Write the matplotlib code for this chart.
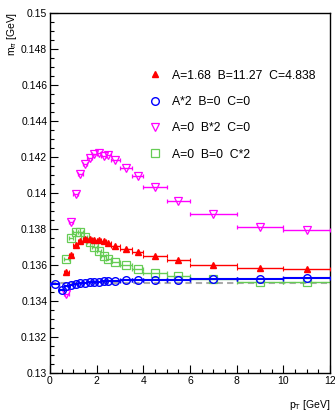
import matplotlib
matplotlib.use('Agg')
import matplotlib.pyplot as plt
from matplotlib.lines import Line2D
from matplotlib.ticker import MultipleLocator, FuncFormatter

plt.rcParams['font.family'] = ['Liberation Sans', 'DejaVu Sans']

# ---- data ----
pt_centers = [0.7, 0.9, 1.1, 1.3, 1.5, 1.7, 1.9, 2.1, 2.3, 2.5, 2.8, 3.25, 3.75, 4.5, 5.5, 7.0, 9.0, 11.0]
pt_halfw = [0.1, 0.1, 0.1, 0.1, 0.1, 0.1, 0.1, 0.1, 0.1, 0.1, 0.2, 0.25, 0.25, 0.5, 0.5, 1.0, 1.0, 1.0]

blue_extra_centers = [0.2, 0.5]
blue_extra_halfw = [0.2, 0.1]

m_fit = [0.13558, 0.13654, 0.13713, 0.13732, 0.13743, 0.13743, 0.13737, 0.13737, 0.13732, 0.13722,
         0.13704, 0.13689, 0.13674, 0.13652, 0.13630, 0.13602, 0.13582, 0.13580]
m_A2 = [0.13484, 0.13490, 0.13495, 0.13498, 0.13500, 0.13503, 0.13505, 0.13507, 0.13508, 0.13510,
        0.13512, 0.13514, 0.13516, 0.13518, 0.13519, 0.13520, 0.13521, 0.13527]
m_A2_extra = [0.13495, 0.13460]
m_B2 = [0.13440, 0.13840, 0.13995, 0.14103, 0.14160, 0.14192, 0.14215, 0.14222, 0.14205, 0.14212,
        0.14182, 0.14137, 0.14093, 0.14030, 0.13956, 0.13880, 0.13811, 0.13795]
m_C2 = [0.13632, 0.13747, 0.13780, 0.13780, 0.13756, 0.13728, 0.13700, 0.13675, 0.13652, 0.13634,
        0.13617, 0.13600, 0.13580, 0.13557, 0.13540, 0.13524, 0.13506, 0.13506]

m_pi0 = 0.135
labels = ["A=1.68  B=11.27  C=4.838", "A*2  B=0  C=0", "A=0  B*2  C=0", "A=0  B=0  C*2"]

# ---- figure ----
fig = plt.figure(figsize=(3.35, 4.13), dpi=100)
ax = fig.add_axes([50/335, 40/413, 280/335, 360.3/413])
ax.set_xlim(0, 12)
ax.set_ylim(0.13, 0.15)

ax.axhline(m_pi0, color='#aaaaaa', ls=(0, (3, 2)), lw=1.5, zorder=1)

red = '#ff0000'
blue = '#0000ff'
mag = '#ff00ff'
green = '#66cc55'

ax.errorbar(pt_centers, m_C2, xerr=pt_halfw, fmt='s', ms=5.5, mfc='none', mec=green, mew=0.9,
            ecolor=green, elinewidth=1.0, capsize=1.5, capthick=0.8, zorder=2)
ax.errorbar(pt_centers, m_fit, xerr=pt_halfw, fmt='^', ms=5, mfc=red, mec=red,
            ecolor=red, elinewidth=1.0, capsize=1.5, capthick=0.8, zorder=3)
ax.errorbar(pt_centers, m_B2, xerr=pt_halfw, fmt='v', ms=5.5, mfc='none', mec=mag, mew=0.9,
            ecolor=mag, elinewidth=1.0, capsize=1.5, capthick=0.8, zorder=3)
ax.errorbar(blue_extra_centers + pt_centers, m_A2_extra + m_A2, xerr=blue_extra_halfw + pt_halfw,
            fmt='o', ms=5.5, mfc='none', mec=blue, mew=1.0,
            ecolor=blue, elinewidth=1.5, capsize=1.5, capthick=0.8, zorder=4)

# ticks
ax.xaxis.set_major_locator(MultipleLocator(2))
ax.xaxis.set_minor_locator(MultipleLocator(0.5))
ax.yaxis.set_major_locator(MultipleLocator(0.002))
ax.yaxis.set_minor_locator(MultipleLocator(0.0005))
ax.yaxis.set_major_formatter(FuncFormatter(lambda v, p: '%g' % round(v, 4)))
ax.xaxis.set_major_formatter(FuncFormatter(lambda v, p: '%g' % v))
ax.tick_params(which='both', direction='in', top=False, right=False, labelsize=7.5, pad=2)
ax.tick_params(which='major', length=6, width=0.8)
ax.tick_params(which='minor', length=3, width=0.8)
for s in ax.spines.values():
    s.set_linewidth(1.0)

fig.text(12/335, 1 - 12/413, r'm$_{\pi}$ [GeV]', rotation=90, ha='center', va='top', fontsize=7.5)
fig.text(330/335, 1 - 405/413, r'p$_{\rm T}$ [GeV]', ha='right', va='center', fontsize=7.5)

handles = [
    Line2D([], [], ls='none', marker='^', ms=5, mfc=red, mec=red),
    Line2D([], [], ls='none', marker='o', ms=5.5, mfc='none', mec=blue, mew=1.0),
    Line2D([], [], ls='none', marker='v', ms=5.5, mfc='none', mec=mag, mew=0.9),
    Line2D([], [], ls='none', marker='s', ms=5.5, mfc='none', mec=green, mew=0.9),
]
ax.legend(handles, labels, loc='upper left', bbox_to_anchor=(99/280, 1 - 57/360.3),
          frameon=False, fontsize=8.8, handlelength=1.0, handletextpad=0.9,
          labelspacing=1.17, borderaxespad=0, borderpad=0)

fig.savefig('out.png', dpi=100)
